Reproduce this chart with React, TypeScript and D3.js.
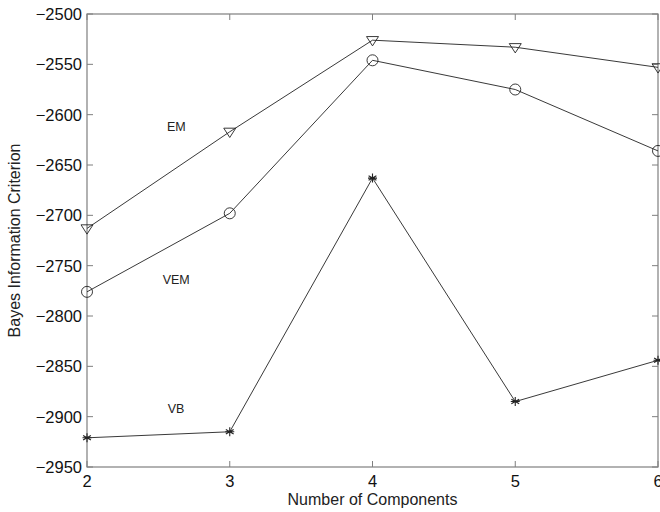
import React, { useEffect, useRef } from 'react';
import * as d3 from 'd3';

const COMPONENTS = [2, 3, 4, 5, 6];
const EM = [-2713, -2617, -2526, -2533, -2553];
const VEM = [-2776, -2698, -2546, -2575, -2636];
const VB = [-2921, -2915, -2663, -2885, -2844];
const Y_TICKS = [-2950, -2900, -2850, -2800, -2750, -2700, -2650, -2600, -2550, -2500];

const SERIES = [
  { name: 'EM', values: EM, marker: 'triangle', label: [2.56, -2616] },
  { name: 'VEM', values: VEM, marker: 'circle', label: [2.53, -2768] },
  { name: 'VB', values: VB, marker: 'star', label: [2.565, -2896] },
];

const W = 660;
const H = 512;
const M = { top: 14, right: 1, bottom: 45, left: 87 };
const AXIS = '#7f7f7f';
const FONT = 'Liberation Sans, Arial, Helvetica, sans-serif';

export default function App() {
  const ref = useRef<SVGSVGElement>(null);

  useEffect(() => {
    const svg = d3.select(ref.current);
    svg.selectAll('*').remove();

    const innerW = W - M.left - M.right;
    const innerH = H - M.top - M.bottom;
    const x = d3.scaleLinear().domain([2, 6]).range([M.left, M.left + innerW - 1]);
    const y = d3.scaleLinear().domain([-2950, -2500]).range([M.top + innerH, M.top]);

    const g = svg.append('g');

    // box
    g.append('rect')
      .attr('x', x(2)).attr('y', y(-2500))
      .attr('width', x(6) - x(2)).attr('height', y(-2950) - y(-2500))
      .attr('fill', 'none').attr('stroke', AXIS).attr('stroke-width', 1.2);

    const tl = 6;
    // x ticks, bottom and top
    COMPONENTS.forEach((c) => {
      g.append('line').attr('x1', x(c)).attr('x2', x(c))
        .attr('y1', y(-2950)).attr('y2', y(-2950) - tl).attr('stroke', AXIS);
      g.append('line').attr('x1', x(c)).attr('x2', x(c))
        .attr('y1', y(-2500)).attr('y2', y(-2500) + tl).attr('stroke', AXIS);
      g.append('text').attr('x', x(c)).attr('y', y(-2950) + 20)
        .attr('text-anchor', 'middle').attr('font-family', FONT).attr('font-size', 16.5)
        .attr('fill', '#111').text(c);
    });
    // y ticks, left and right
    Y_TICKS.forEach((t) => {
      g.append('line').attr('x1', x(2)).attr('x2', x(2) + tl)
        .attr('y1', y(t)).attr('y2', y(t)).attr('stroke', AXIS);
      g.append('line').attr('x1', x(6)).attr('x2', x(6) - tl)
        .attr('y1', y(t)).attr('y2', y(t)).attr('stroke', AXIS);
      g.append('text').attr('x', x(2) - 5).attr('y', y(t) + 6)
        .attr('text-anchor', 'end').attr('font-family', FONT).attr('font-size', 16.5)
        .attr('fill', '#111').text(String(t).replace('-', '\u2212'));
    });

    // axis labels
    g.append('text').attr('x', (x(2) + x(6)) / 2).attr('y', H - 7)
      .attr('text-anchor', 'middle').attr('font-family', FONT).attr('font-size', 16)
      .attr('fill', '#222').text('Number of Components');
    g.append('text')
      .attr('transform', `translate(20,${(y(-2500) + y(-2950)) / 2}) rotate(-90)`)
      .attr('text-anchor', 'middle').attr('font-family', FONT).attr('font-size', 16)
      .attr('fill', '#222').text('Bayes Information Criterion');

    const line = d3.line<number>().x((_, i) => x(COMPONENTS[i])).y((d) => y(d));

    SERIES.forEach((s) => {
      g.append('path').datum(s.values).attr('d', line)
        .attr('fill', 'none').attr('stroke', '#222').attr('stroke-width', 0.9);

      s.values.forEach((v, i) => {
        const cx = x(COMPONENTS[i]);
        const cy = y(v);
        if (s.marker === 'triangle') {
          const r = 6;
          g.append('path')
            .attr('d', `M${cx - r},${cy - r * 0.6}L${cx + r},${cy - r * 0.6}L${cx},${cy + r * 0.95}Z`)
            .attr('fill', 'none').attr('stroke', '#222').attr('stroke-width', 0.9);
        } else if (s.marker === 'circle') {
          g.append('circle').attr('cx', cx).attr('cy', cy).attr('r', 5.5)
            .attr('fill', 'none').attr('stroke', '#222').attr('stroke-width', 0.9);
        } else {
          const r = 4.5;
          const seg = [0, 60, 120].map((a) => {
            const rad = (a * Math.PI) / 180 + Math.PI / 2;
            return `M${cx - r * Math.cos(rad)},${cy - r * Math.sin(rad)}L${cx + r * Math.cos(rad)},${cy + r * Math.sin(rad)}`;
          }).join('');
          g.append('path').attr('d', seg + `M${cx - r},${cy}L${cx + r},${cy}`)
            .attr('stroke', '#222').attr('stroke-width', 1.1);
        }
      });

      g.append('text').attr('x', x(s.label[0])).attr('y', y(s.label[1]))
        .attr('font-family', FONT).attr('font-size', 12.5).attr('fill', '#222')
        .text(s.name);
    });
  }, []);

  return (
    <svg ref={ref} width={W} height={H} style={{ position: 'absolute', left: 0, top: 0, background: '#fff' }} />
  );
}
